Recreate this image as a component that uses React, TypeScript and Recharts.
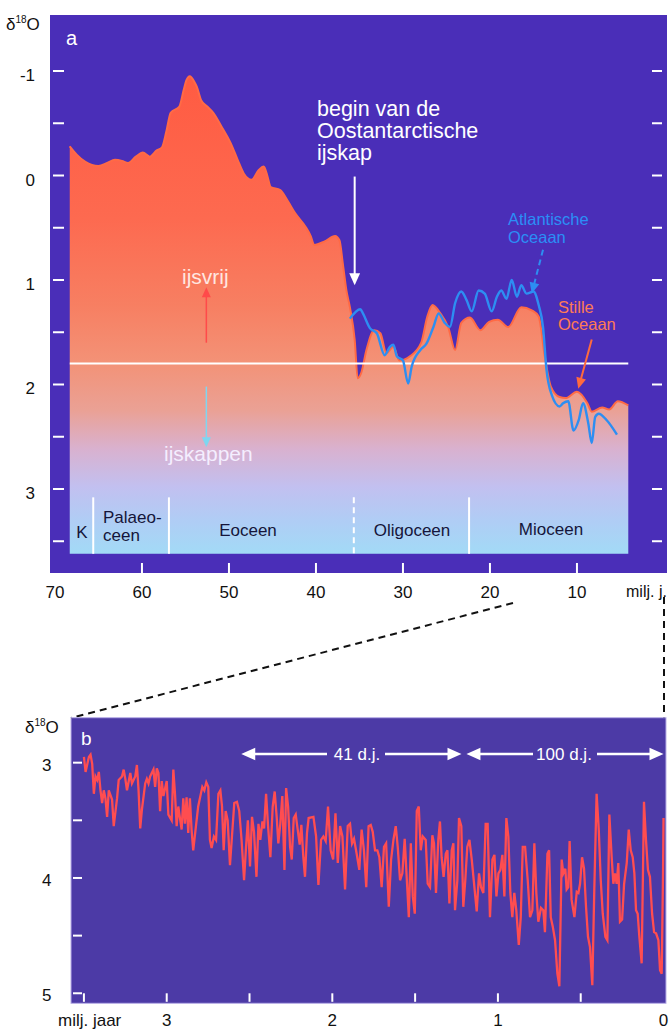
import React from 'react';
import {
  ComposedChart,
  LineChart,
  Area,
  Line,
  XAxis,
  YAxis,
  CartesianGrid,
  ReferenceLine,
} from 'recharts';

// panel a: [milj. jaar, δ18O]
const pacificCurve: Array<[number, number]> = [
  [68.3, -0.28], [67.5, -0.2], [66.5, -0.13], [65.0, -0.09], [64.0, -0.12], [63.1, -0.15],
  [62.3, -0.14], [61.6, -0.12], [60.7, -0.18], [59.9, -0.22], [59.1, -0.18], [58.3, -0.24],
  [57.7, -0.27], [57.2, -0.42], [56.7, -0.6], [55.7, -0.66], [55.2, -0.82], [54.9, -0.91],
  [54.5, -0.95], [54.0, -0.9], [53.7, -0.85], [53.2, -0.72], [52.5, -0.66], [51.8, -0.6],
  [50.8, -0.46], [49.8, -0.31], [49.0, -0.15], [48.3, -0.02], [47.4, 0.04], [46.6, -0.05],
  [46.0, -0.085], [45.6, 0.0], [45.2, 0.11], [44.1, 0.14], [43.2, 0.25], [42.4, 0.36],
  [41.2, 0.49], [40.6, 0.58], [40.2, 0.665], [39.0, 0.63], [37.8, 0.58], [37.3, 0.62],
  [36.9, 0.85], [36.5, 1.1], [36.1, 1.26], [35.55, 1.57], [35.2, 1.94], [34.8, 1.89],
  [34.2, 1.67], [33.3, 1.48], [32.6, 1.51], [31.9, 1.7], [31.1, 1.64], [30.4, 1.77],
  [29.2, 1.73], [27.9, 1.6], [27.2, 1.35], [26.6, 1.24], [25.7, 1.32], [24.8, 1.45],
  [24.0, 1.67], [23.3, 1.41], [22.3, 1.36], [21.1, 1.48], [20.1, 1.4], [19.1, 1.38],
  [17.9, 1.45], [16.4, 1.26], [15.2, 1.29], [14.4, 1.35], [13.7, 1.73], [13.0, 2.02],
  [12.0, 2.12], [11.3, 2.13], [10.0, 2.07], [8.8, 2.18], [8.3, 2.26], [7.1, 2.22],
  [6.3, 2.24], [5.3, 2.16], [4.1, 2.2],
];

const atlanticCurve: Array<[number, number]> = [
  [36.1, 1.37], [34.9, 1.28], [34.6, 1.32], [33.8, 1.46], [33.0, 1.51], [32.1, 1.72],
  [31.5, 1.64], [31.1, 1.62], [30.7, 1.73], [30.0, 1.77], [29.4, 1.99], [29.0, 1.83],
  [28.0, 1.67], [27.3, 1.61], [26.5, 1.45], [25.9, 1.32], [25.2, 1.41], [24.6, 1.45],
  [24.0, 1.22], [23.3, 1.11], [22.7, 1.19], [22.1, 1.3], [21.3, 1.1], [20.6, 1.13],
  [19.8, 1.3], [19.2, 1.16], [18.7, 1.1], [18.1, 1.18], [17.5, 1.0], [16.9, 1.16],
  [16.4, 1.05], [15.8, 1.13], [15.0, 1.11], [14.4, 1.24], [13.9, 1.45], [13.5, 1.86],
  [12.9, 2.1], [12.0, 2.21], [11.6, 2.18], [11.0, 2.16], [10.4, 2.44], [9.8, 2.34],
  [9.3, 2.18], [8.7, 2.37], [8.3, 2.56], [7.9, 2.31], [7.5, 2.28], [6.6, 2.34], [5.4, 2.48],
];

const epochBounds = [65.6, 56.9, 35.65, 22.4];
const epochBarTop = 3.08;
const fillBase = 3.62;
const iceLine = 1.8;
const topXTicks = [70, 60, 50, 40, 30, 20, 10];
const topYTicks = [-1, -0.5, 0, 0.5, 1, 1.5, 2, 2.5, 3, 3.5];

// panel b: [milj. jaar, δ18O]
const recordB: Array<[number, number]> = [
  [3.5, 2.95], [3.49, 3.08], [3.47, 2.95], [3.46, 2.93], [3.45, 3.01], [3.44, 3.27], [3.43, 3.12],
  [3.42, 3.15], [3.41, 3.08], [3.4, 3.24], [3.39, 3.35], [3.38, 3.24], [3.37, 3.31], [3.36, 3.47],
  [3.35, 3.24], [3.33, 3.32], [3.32, 3.55], [3.3, 3.31], [3.29, 3.15], [3.27, 3.12], [3.26, 3.06],
  [3.25, 3.14], [3.24, 3.24], [3.22, 3.09], [3.21, 3.18], [3.19, 3.12], [3.18, 3.02], [3.17, 3.24],
  [3.16, 3.57], [3.15, 3.41], [3.13, 3.18], [3.12, 3.14], [3.11, 3.18], [3.1, 3.12], [3.08, 3.06],
  [3.07, 3.21], [3.06, 3.05], [3.05, 3.09], [3.04, 3.42], [3.03, 3.16], [3.02, 3.29], [3.0, 3.16],
  [2.99, 3.45], [2.97, 3.5], [2.96, 3.06], [2.95, 3.27], [2.94, 3.55], [2.93, 3.38], [2.91, 3.58],
  [2.9, 3.31], [2.89, 3.53], [2.88, 3.3], [2.87, 3.61], [2.86, 3.31], [2.85, 3.58], [2.84, 3.76],
  [2.81, 3.38], [2.785, 3.21], [2.773, 3.24], [2.761, 3.17], [2.749, 3.21], [2.739, 3.67],
  [2.729, 3.74], [2.715, 3.64], [2.702, 3.67], [2.688, 3.27], [2.676, 3.24], [2.666, 3.38],
  [2.656, 3.76], [2.644, 3.42], [2.632, 3.5], [2.618, 3.89], [2.606, 3.64], [2.592, 3.35],
  [2.576, 3.34], [2.562, 3.42], [2.548, 3.67], [2.533, 4.02], [2.521, 3.73], [2.51, 3.5],
  [2.497, 3.9], [2.485, 3.47], [2.473, 3.6], [2.458, 3.99], [2.446, 3.53], [2.435, 3.67],
  [2.422, 3.51], [2.412, 3.57], [2.4, 3.27], [2.388, 3.55], [2.374, 3.82], [2.36, 3.38],
  [2.348, 3.25], [2.336, 3.47], [2.326, 3.7], [2.314, 3.53], [2.302, 3.29], [2.289, 3.93],
  [2.279, 3.22], [2.267, 3.38], [2.255, 3.73], [2.245, 3.84], [2.233, 3.48], [2.221, 3.45],
  [2.209, 3.58], [2.197, 3.71], [2.187, 3.54], [2.175, 3.82], [2.165, 3.99], [2.153, 3.61],
  [2.143, 3.48], [2.114, 3.47], [2.098, 3.64], [2.084, 4.06], [2.068, 3.67], [2.054, 3.64],
  [2.04, 3.68], [2.026, 3.38], [2.01, 3.76], [1.995, 3.84], [1.981, 3.44], [1.967, 3.87],
  [1.953, 3.55], [1.939, 3.64], [1.923, 4.1], [1.907, 3.55], [1.893, 3.53], [1.881, 3.7],
  [1.869, 3.66], [1.853, 3.79], [1.837, 3.93], [1.823, 3.58], [1.809, 3.76], [1.795, 4.08],
  [1.781, 3.55], [1.768, 3.54], [1.756, 3.6], [1.742, 3.76], [1.728, 3.76], [1.716, 3.82],
  [1.702, 4.08], [1.688, 3.73], [1.675, 3.7], [1.659, 4.25], [1.645, 3.84], [1.631, 3.67],
  [1.617, 3.55], [1.605, 3.73], [1.591, 4.02], [1.577, 3.96], [1.563, 3.66], [1.551, 3.99],
  [1.538, 4.34], [1.526, 3.7], [1.514, 4.16], [1.502, 4.31], [1.49, 3.42], [1.478, 3.38],
  [1.466, 3.76], [1.454, 3.64], [1.436, 3.67], [1.424, 4.05], [1.41, 4.08], [1.396, 3.63],
  [1.386, 3.7], [1.374, 4.13], [1.36, 3.67], [1.35, 3.51], [1.34, 3.82], [1.328, 3.99],
  [1.315, 3.79], [1.305, 3.76], [1.293, 4.22], [1.279, 3.76], [1.269, 3.7], [1.259, 4.28],
  [1.245, 4.02], [1.235, 3.48], [1.221, 3.55], [1.209, 4.25], [1.197, 4.02], [1.185, 3.73],
  [1.172, 3.67], [1.158, 3.84], [1.142, 4.08], [1.128, 4.29], [1.114, 3.96], [1.102, 4.08],
  [1.088, 4.13], [1.074, 3.53], [1.062, 3.53], [1.048, 4.34], [1.033, 3.84], [1.021, 3.8],
  [1.009, 4.16], [0.997, 3.96], [0.985, 3.93], [0.973, 3.8], [0.961, 4.16], [0.949, 3.48],
  [0.937, 3.64], [0.925, 4.13], [0.913, 4.34], [0.901, 4.13], [0.889, 4.28], [0.874, 4.58],
  [0.862, 4.34], [0.85, 3.73], [0.836, 3.73], [0.82, 4.02], [0.806, 4.34], [0.792, 4.28],
  [0.78, 3.7], [0.768, 4.13], [0.756, 4.38], [0.74, 4.26], [0.726, 4.28], [0.716, 4.47],
  [0.701, 3.79], [0.691, 3.76], [0.681, 4.34], [0.669, 4.42], [0.655, 4.54], [0.641, 4.83],
  [0.629, 4.94], [0.615, 3.84], [0.605, 3.96], [0.593, 3.92], [0.585, 4.1], [0.575, 4.08],
  [0.567, 3.68], [0.555, 4.19], [0.538, 4.34], [0.524, 4.12], [0.514, 4.13], [0.504, 4.05],
  [0.492, 3.82], [0.48, 3.92], [0.468, 4.25], [0.456, 4.51], [0.444, 4.6], [0.43, 4.93],
  [0.418, 4.1], [0.404, 3.27], [0.391, 3.58], [0.379, 4.02], [0.367, 4.31], [0.351, 4.51],
  [0.339, 4.54], [0.327, 3.45], [0.313, 3.82], [0.303, 4.05], [0.293, 3.96], [0.283, 4.05],
  [0.273, 3.87], [0.263, 4.38], [0.25, 4.36], [0.238, 4.05], [0.222, 3.87], [0.21, 3.58],
  [0.198, 3.76], [0.186, 3.82], [0.176, 3.96], [0.166, 4.28], [0.156, 4.31], [0.146, 4.51],
  [0.132, 4.74], [0.118, 3.34], [0.106, 3.67], [0.094, 3.93], [0.082, 3.99], [0.069, 4.31],
  [0.057, 4.47], [0.045, 4.48], [0.031, 4.54], [0.021, 4.8], [0.011, 4.83], [0.003, 3.96],
  [0.0, 3.48],
];
const cycle41: [number, number] = [2.55, 1.22];
const cycle100: [number, number] = [1.19, 0.0];
const bottomXTicks = [3.5, 3, 2.5, 2, 1.5, 1, 0.5, 0];
const bottomXLabels = [3, 2, 1, 0];
const bottomYTicks = [3, 3.5, 4, 4.5, 5];

const toRows = (pts: Array<[number, number]>) => pts.map(([t, v]) => ({ t, v }));
const pacificData = toRows(pacificCurve);
const atlanticData = toRows(atlanticCurve);
const recordData = toRows(recordB);

const FONT = '"Liberation Sans", Arial, sans-serif';
const PANEL_A = '#4a2eb8';
const PANEL_B = '#4c3aa6';

// arrow drawn between the two ends of a reference segment, head at the second end
const arrow =
  (color: string, width = 2, head = 11, dash?: string, both = false) =>
  (p: any) => {
    const { x1, y1, x2, y2 } = p;
    const dx = x2 - x1;
    const dy = y2 - y1;
    const len = Math.hypot(dx, dy) || 1;
    const ux = dx / len;
    const uy = dy / len;
    const hw = head * 0.45;
    const tri = (tx: number, ty: number, sx: number, sy: number) => {
      const bx = tx - sx * head;
      const by = ty - sy * head;
      return `${tx},${ty} ${bx - sy * hw},${by + sx * hw} ${bx + sy * hw},${by - sx * hw}`;
    };
    return (
      <g>
        <line
          x1={both ? x1 + ux * head * 0.8 : x1}
          y1={both ? y1 + uy * head * 0.8 : y1}
          x2={x2 - ux * head * 0.8}
          y2={y2 - uy * head * 0.8}
          stroke={color}
          strokeWidth={width}
          strokeDasharray={dash}
        />
        <polygon points={tri(x2, y2, ux, uy)} fill={color} />
        {both && <polygon points={tri(x1, y1, -ux, -uy)} fill={color} />}
      </g>
    );
  };

const TopXTick = (props: any) => {
  const { x, y, payload } = props;
  return (
    <g>
      {payload.value !== 70 && (
        <line x1={x} x2={x} y1={y - 10} y2={y} stroke="#fff" strokeWidth={2} />
      )}
      <text x={x} y={y + 25} textAnchor="middle" fontSize={17} fontFamily={FONT} fill="#111">
        {payload.value}
      </text>
    </g>
  );
};

const TopYTick = (props: any) => {
  const { x, y, payload } = props;
  return (
    <g>
      <line x1={x + 3} x2={x + 14} y1={y} y2={y} stroke="#fff" strokeWidth={2} />
      <line x1={x + 602} x2={x + 612} y1={y} y2={y} stroke="#fff" strokeWidth={2} />
      {Number.isInteger(payload.value) && (
        <text x={x - 15} y={y + 10} textAnchor="end" fontSize={17} fontFamily={FONT} fill="#111">
          {payload.value}
        </text>
      )}
    </g>
  );
};

const BottomXTick = (props: any) => {
  const { x, y, payload } = props;
  return (
    <g>
      {payload.value !== 0 && (
        <line x1={x} x2={x} y1={y - 10} y2={y - 1.5} stroke="#fff" strokeWidth={2} />
      )}
      {bottomXLabels.includes(payload.value) && (
        <text x={x} y={y + 23} textAnchor="middle" fontSize={17} fontFamily={FONT} fill="#111">
          {payload.value}
        </text>
      )}
    </g>
  );
};

const BottomYTick = (props: any) => {
  const { x, y, payload } = props;
  return (
    <g>
      <line x1={x + 2} x2={x + 11} y1={y} y2={y} stroke="#fff" strokeWidth={2} />
      {Number.isInteger(payload.value) && (
        <text x={x - 19.5} y={y + 8} textAnchor="end" fontSize={17} fontFamily={FONT} fill="#111">
          {payload.value}
        </text>
      )}
    </g>
  );
};

const T = (p: any) => <text fontFamily={FONT} {...p} />;

const Overlay = () => (
  <svg
    width={670}
    height={1029}
    style={{ position: 'absolute', left: 0, top: 0, pointerEvents: 'none' }}
  >
    {/* panel a texts */}
    <T x={6} y={30} fontSize={17} fill="#111">
      δ<tspan fontSize={10} dy={-7}>18</tspan>
      <tspan fontSize={17} dy={7}>O</tspan>
    </T>
    <T x={66} y={45} fontSize={20} fill="#fff">a</T>
    <T x={317} y={116} fontSize={21.5} fill="#fff">begin van de</T>
    <T x={317} y={138} fontSize={21.5} fill="#fff">Oostantarctische</T>
    <T x={317} y={160} fontSize={21.5} fill="#fff">ijskap</T>
    <T x={508} y={225} fontSize={16.5} fill="#2b8ef6">Atlantische</T>
    <T x={508} y={243} fontSize={16.5} fill="#2b8ef6">Oceaan</T>
    <T x={558} y={313} fontSize={16.5} fill="#ff7b55">Stille</T>
    <T x={558} y={330} fontSize={16.5} fill="#ff7b55">Oceaan</T>
    <T x={182} y={284} fontSize={21} fill="#ffe6e0">ijsvrij</T>
    <T x={164} y={461} fontSize={21} fill="#f4eeff">ijskappen</T>
    <T x={82} y={538} fontSize={17} fill="#15153a" textAnchor="middle">K</T>
    <T x={103} y={523} fontSize={17} fill="#15153a">Palaeo-</T>
    <T x={103} y={541} fontSize={17} fill="#15153a">ceen</T>
    <T x={248} y={536} fontSize={17} fill="#15153a" textAnchor="middle">Eoceen</T>
    <T x={412} y={536} fontSize={17} fill="#15153a" textAnchor="middle">Oligoceen</T>
    <T x={551} y={535} fontSize={17} fill="#15153a" textAnchor="middle">Mioceen</T>
    <T x={626} y={597} fontSize={16} fill="#111">milj. j.</T>

    {/* zoom connectors */}
    <line x1={513} y1={603} x2={71} y2={718} stroke="#111" strokeWidth={2} strokeDasharray="7 5" />
    <line x1={664} y1={597} x2={664} y2={718} stroke="#111" strokeWidth={2} strokeDasharray="7 5" />

    {/* panel b texts */}
    <rect x={71} y={717.7} width={595} height={285.6} fill="none" stroke="#b9b0e8" strokeWidth={1} />
    <T x={25} y={733} fontSize={17} fill="#111">
      δ<tspan fontSize={10} dy={-7}>18</tspan>
      <tspan fontSize={17} dy={7}>O</tspan>
    </T>
    <T x={81} y={745} fontSize={19} fill="#fff">b</T>
    <rect x={327} y={746} width={58} height={16} fill={PANEL_B} />
    <rect x={533} y={746} width={64} height={16} fill={PANEL_B} />
    <T x={357} y={760} fontSize={17} fill="#fff" textAnchor="middle">41 d.j.</T>
    <T x={564} y={760} fontSize={17} fill="#fff" textAnchor="middle">100 d.j.</T>
    <T x={58} y={1026} fontSize={17} fill="#111">milj. jaar</T>
  </svg>
);

const TopChart = () => (
  <ComposedChart width={670} height={620} margin={{ top: 15, right: 3, bottom: 0, left: 0 }}>
    <defs>
      <linearGradient id="pacificFill" x1="0" y1="0" x2="0" y2="1">
        <stop offset="0" stopColor="#ff5b42" />
        <stop offset="0.3" stopColor="#fd6a50" />
        <stop offset="0.48" stopColor="#f77f62" />
        <stop offset="0.6" stopColor="#f39277" />
        <stop offset="0.7" stopColor="#eaa195" />
        <stop offset="0.78" stopColor="#d9b1cf" />
        <stop offset="0.86" stopColor="#c2c0f0" />
        <stop offset="0.93" stopColor="#b0cdf5" />
        <stop offset="1" stopColor="#a2daf6" />
      </linearGradient>
    </defs>
    <CartesianGrid horizontal={false} vertical={false} fill={PANEL_A} />
    <XAxis
      dataKey="t"
      type="number"
      domain={[-0.35, 70.57]}
      allowDataOverflow
      reversed
      ticks={topXTicks}
      interval={0}
      height={47}
      axisLine={false}
      tickLine={false}
      tickSize={0}
      tickMargin={0}
      tick={(p: any) => <TopXTick {...p} />}
    />
    <YAxis
      type="number"
      domain={[-1.536, 3.804]}
      allowDataOverflow
      reversed
      ticks={topYTicks}
      interval={0}
      width={50}
      axisLine={false}
      tickLine={false}
      tickSize={0}
      tickMargin={0}
      tick={(p: any) => <TopYTick {...p} />}
    />
    <Area
      data={pacificData}
      dataKey="v"
      type="monotone"
      baseValue={fillBase}
      fill="url(#pacificFill)"
      fillOpacity={1}
      stroke="#ff6a45"
      strokeWidth={2}
      isAnimationActive={false}
    />
    <ReferenceLine
      segment={[
        { x: pacificCurve[0][0], y: iceLine },
        { x: pacificCurve[pacificCurve.length - 1][0], y: iceLine },
      ]}
      stroke="#fff"
      strokeWidth={2}
    />
    {epochBounds.map((b, i) => (
      <ReferenceLine
        key={b}
        segment={[
          { x: b, y: epochBarTop },
          { x: b, y: fillBase },
        ]}
        stroke="#fff"
        strokeWidth={2}
        strokeDasharray={i === 2 ? '6 4' : undefined}
      />
    ))}
    <Line
      data={atlanticData}
      dataKey="v"
      type="monotone"
      stroke="#2d8ef2"
      strokeWidth={2.4}
      dot={false}
      isAnimationActive={false}
    />
    <ReferenceLine
      segment={[{ x: 35.55, y: 0.01 }, { x: 35.55, y: 1.05 }]}
      shape={arrow('#fff', 2, 12)}
    />
    <ReferenceLine
      segment={[{ x: 52.6, y: 1.6 }, { x: 52.6, y: 1.07 }]}
      shape={arrow('#ff4a4a', 1.5, 10)}
    />
    <ReferenceLine
      segment={[{ x: 52.6, y: 2.02 }, { x: 52.6, y: 2.6 }]}
      shape={arrow('#7fd6f0', 1.5, 10)}
    />
    <ReferenceLine
      segment={[{ x: 13.9, y: 0.71 }, { x: 15.2, y: 1.13 }]}
      shape={arrow('#2d8ef2', 2, 11, '6 4')}
    />
    <ReferenceLine
      segment={[{ x: 8.3, y: 1.57 }, { x: 9.85, y: 2.04 }]}
      shape={arrow('#ff6a3d', 2, 11)}
    />
  </ComposedChart>
);

const BottomChart = () => (
  <LineChart
    width={670}
    height={339}
    data={recordData}
    margin={{ top: 27.7, right: 4, bottom: 0, left: 0 }}
  >
    <CartesianGrid horizontal={false} vertical={false} fill={PANEL_B} />
    <XAxis
      dataKey="t"
      type="number"
      domain={[-0.015, 3.578]}
      allowDataOverflow
      reversed
      ticks={bottomXTicks}
      interval={0}
      height={25.7}
      axisLine={false}
      tickLine={false}
      tickSize={0}
      tickMargin={0}
      tick={(p: any) => <BottomXTick {...p} />}
    />
    <YAxis
      type="number"
      domain={[2.61, 5.087]}
      allowDataOverflow
      reversed
      ticks={bottomYTicks}
      interval={0}
      width={71}
      axisLine={false}
      tickLine={false}
      tickSize={0}
      tickMargin={0}
      tick={(p: any) => <BottomYTick {...p} />}
    />
    <Line
      dataKey="v"
      type="linear"
      stroke="#ff4d50"
      strokeWidth={2.3}
      dot={false}
      isAnimationActive={false}
    />
    <ReferenceLine
      segment={[{ x: cycle41[0], y: 2.925 }, { x: cycle41[1], y: 2.925 }]}
      shape={arrow('#fff', 2.5, 14, undefined, true)}
    />
    <ReferenceLine
      segment={[{ x: cycle100[0], y: 2.925 }, { x: cycle100[1], y: 2.925 }]}
      shape={arrow('#fff', 2.5, 14, undefined, true)}
      ifOverflow="visible"
    />
  </LineChart>
);

export default function App() {
  return (
    <div style={{ position: 'absolute', left: 0, top: 0, width: 670, height: 1029, background: '#fff' }}>
      <div style={{ position: 'absolute', left: 0, top: 0 }}>
        <TopChart />
      </div>
      <div style={{ position: 'absolute', left: 0, top: 690 }}>
        <BottomChart />
      </div>
      <Overlay />
    </div>
  );
}
